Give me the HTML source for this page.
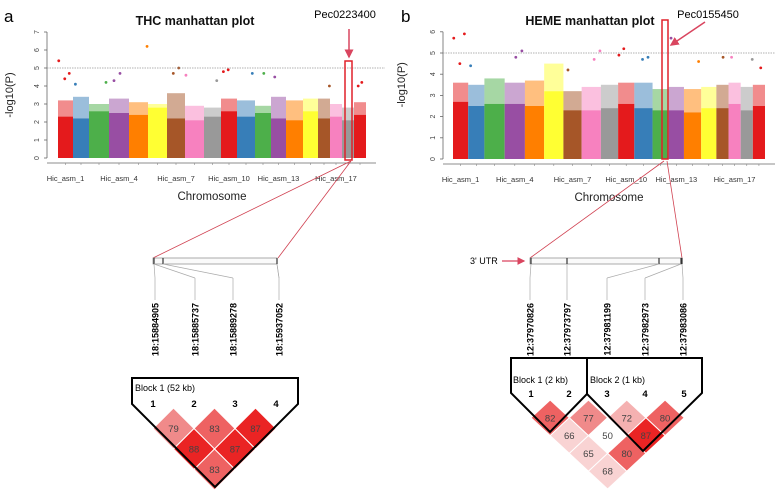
<!DOCTYPE html>
<html><head><meta charset="utf-8"><style>
body{margin:0;background:#fff;width:778px;height:492px;overflow:hidden}
svg{display:block}
text{font-family:"Liberation Sans",sans-serif}
</style></head><body>
<svg id="fig" width="778" height="492" viewBox="0 0 778 492" xmlns="http://www.w3.org/2000/svg">
<g id="pa"></g>
<g id="pb"></g>
</svg>
<script>
const chrColors=["#e41a1c","#377eb8","#4daf4a","#984ea3","#ff7f00","#ffff33","#a65628","#f781bf","#999999","#e41a1c","#377eb8","#4daf4a","#984ea3","#ff7f00","#ffff33","#a65628","#f781bf","#999999","#e41a1c"];
const chrLen=[15,16,20,20,19,19,18,19,17,16,18,16,15,17,15,12,12,12,12];
const xLabels=["Hic_asm_1","Hic_asm_4","Hic_asm_7","Hic_asm_10","Hic_asm_13","Hic_asm_17"];
const xLabelChr=[1,4,7,10,13,17];
const thcCore=[2.3,2.2,2.6,2.5,2.4,2.8,2.2,2.1,2.3,2.6,2.3,2.5,2.2,2.1,2.6,2.2,2.3,2.1,2.4];
const thcUpper=[3.2,3.4,3.0,3.3,3.1,3.0,3.6,2.9,2.8,3.3,3.2,2.9,3.4,3.2,3.3,3.3,3.0,2.8,3.1];
const thcPeakChr=[1,1,1,2,3,4,4,5,7,7,8,9,10,10,11,12,13,16,19,19];
const thcPeakVal=[5.4,4.7,4.4,4.1,4.2,4.7,4.3,6.2,5.0,4.7,4.6,4.3,4.9,4.8,4.7,4.7,4.5,4.0,4.2,4.0];
const hemeCore=[2.7,2.5,2.6,2.6,2.5,3.2,2.3,2.3,2.4,2.6,2.4,2.3,2.3,2.2,2.4,2.4,2.6,2.3,2.5];
const hemeUpper=[3.6,3.5,3.8,3.6,3.7,4.5,3.2,3.4,3.5,3.6,3.6,3.3,3.4,3.3,3.4,3.5,3.6,3.4,3.5];
const hemePeakChr=[1,1,1,2,4,4,7,8,8,10,10,11,11,13,14,16,17,18,19];
const hemePeakVal=[5.7,5.9,4.5,4.4,5.1,4.8,4.2,5.1,4.7,5.2,4.9,4.8,4.7,5.7,4.6,4.8,4.8,4.7,4.3];
const thcTicks=[0,1,2,3,4,5,6,7];
const hemeTicks=[0,1,2,3,4,5,6];
const threshold=5;
const NS="http://www.w3.org/2000/svg";
function el(p,t,a,txt){const e=document.createElementNS(NS,t);for(const k in a)e.setAttribute(k,a[k]);if(txt!==undefined)e.textContent=txt;p.appendChild(e);return e;}

function manhattan(g,cfg){
  const yS=v=>cfg.y0-(v)*cfg.unit;
  const tot=chrLen.reduce((a,b)=>a+b,0);
  const xS=p=>cfg.x0+p/tot*(cfg.x1-cfg.x0);
  const starts=[];let acc=0;chrLen.forEach(l=>{starts.push(acc);acc+=l;});
  let ax=el(g,'line',{x1:cfg.axL,y1:yS(0),x2:cfg.axL,y2:yS(cfg.ticks[cfg.ticks.length-1]),stroke:'#666','stroke-width':0.8});
  
  cfg.ticks.forEach(t=>{
    el(g,'line',{x1:cfg.axL-3,y1:yS(t),x2:cfg.axL,y2:yS(t),stroke:'#666','stroke-width':0.8});
    const tx=el(g,'text',{x:cfg.axL-8,y:yS(t),'font-size':7,fill:'#444','text-anchor':'middle',transform:`rotate(-90 ${cfg.axL-8} ${yS(t)})`},String(t));
    
  });
  let xa=el(g,'line',{x1:cfg.axL,y1:cfg.y0+5,x2:cfg.x1+10,y2:cfg.y0+5,stroke:'#666','stroke-width':0.8});
  
  chrLen.forEach((l,i)=>{
    const xa0=xS(starts[i]),xa1=xS(starts[i]+l);
    el(g,'line',{x1:(xa0+xa1)/2,y1:cfg.y0+5,x2:(xa0+xa1)/2,y2:cfg.y0+7,stroke:'#888','stroke-width':0.6});
    const up=el(g,'rect',{x:xa0,y:yS(cfg.upper[i]),width:xa1-xa0,height:yS(cfg.core[i])-yS(cfg.upper[i]),fill:chrColors[i],opacity:0.5});
    
    const r=el(g,'rect',{x:xa0,y:yS(cfg.core[i]),width:xa1-xa0,height:yS(0)-yS(cfg.core[i]),fill:chrColors[i]});
    
  });
  cfg.peakChr.forEach((c,j)=>{
    const i=c-1;const px=xS(starts[i]+chrLen[i]*((j*37%10)/10+0.05));
    const d=el(g,'circle',{cx:px,cy:yS(cfg.peakVal[j]),r:1.4,fill:chrColors[i]});
    
  });
  let th=el(g,'line',{x1:cfg.axL,y1:yS(threshold),x2:cfg.thEnd,y2:yS(threshold),stroke:'#999','stroke-width':0.7,'stroke-dasharray':'1.5,1'});
  
  xLabels.forEach((lb,k)=>{
    const i=xLabelChr[k]-1;const cx=xS(starts[i]+chrLen[i]/2);
    const t=el(g,'text',{x:cx,y:cfg.y0+23,'font-size':7.5,fill:'#333','text-anchor':'middle'},lb);
    
  });
  let xt=el(g,'text',{x:(cfg.x0+cfg.x1)/2,y:cfg.y0+42,'font-size':11.5,fill:'#222','text-anchor':'middle'},'Chromosome');
  
  let yt=el(g,'text',{x:cfg.yTitleX,y:yS(3.5),'font-size':11,fill:'#222','text-anchor':'middle',transform:`rotate(-90 ${cfg.yTitleX} ${yS(3.5)})`},'-log10(P)');
  
  let tt=el(g,'text',{x:cfg.titleX,y:25,'font-size':12.5,'font-weight':'bold',fill:'#111','text-anchor':'middle'},cfg.title);
  
}
const pa=document.getElementById('pa'),pb=document.getElementById('pb');
manhattan(pa,{x0:58,x1:366,y0:158,unit:18,axL:47,ticks:thcTicks,core:thcCore,upper:thcUpper,peakChr:thcPeakChr,peakVal:thcPeakVal,thEnd:385,yTitleX:13,titleX:195,title:'THC manhattan plot'});
manhattan(pb,{x0:453,x1:765,y0:159,unit:21.2,axL:443,ticks:hemeTicks,core:hemeCore,upper:hemeUpper,peakChr:hemePeakChr,peakVal:hemePeakVal,thEnd:775,yTitleX:405,titleX:590,title:'HEME manhattan plot'});

let l1=el(pa,'text',{x:4,y:22,'font-size':17,'font-family':'Liberation Serif'},'a');
let l2=el(pb,'text',{x:401,y:22,'font-size':17,'font-family':'Liberation Serif'},'b');

const red='#d9455f';
function hl(g,x,y,w,h){const r=el(g,'rect',{x,y,width:w,height:h,fill:'none',stroke:'#e0202a','stroke-width':1.5});}
hl(pa,345,61,7,99);hl(pb,662,20,6,139);
let m=el(document.getElementById('fig'),'defs',{});
let mk=el(m,'marker',{id:'ah',markerWidth:6,markerHeight:6,refX:5,refY:3,orient:'auto'});el(mk,'path',{d:'M0,0 L6,3 L0,6 Z',fill:red});
let a1=el(pa,'line',{x1:349,y1:29,x2:349,y2:57,stroke:red,'stroke-width':1.5,'marker-end':'url(#ah)'});
let a2=el(pb,'line',{x1:705,y1:22,x2:671,y2:45,stroke:red,'stroke-width':1.5,'marker-end':'url(#ah)'});
let s1=el(pa,'text',{x:345,y:18,'font-size':11,'font-family':'Liberation Serif','text-anchor':'middle'},'Pec0223400');
let s2=el(pb,'text',{x:708,y:18,'font-size':11,'font-family':'Liberation Serif','text-anchor':'middle'},'Pec0155450');
[[351,161,153,258],[351,161,278,258]].forEach(c=>el(pa,'line',{x1:c[0],y1:c[1],x2:c[2],y2:c[3],stroke:'#d04050','stroke-width':0.8}));
[[664,161,530,258],[667,161,682,258]].forEach(c=>el(pb,'line',{x1:c[0],y1:c[1],x2:c[2],y2:c[3],stroke:'#d04050','stroke-width':0.8}));

function gene(g,x0,x1,ticks,labX,labels,links){
  const r=el(g,'rect',{x:x0,y:258,width:x1-x0,height:6,fill:'#fafafa',stroke:'#888','stroke-width':0.7});
  
  ticks.forEach(t=>el(g,'line',{x1:t,y1:258,x2:t,y2:264,stroke:'#333','stroke-width':1.2}));
  links.forEach((k,i)=>el(g,'line',{x1:ticks[k],y1:264,x2:labX[i],y2:278,stroke:'#aaa','stroke-width':0.7}));
  labels.forEach((s,i)=>{
    el(g,'line',{x1:labX[i],y1:278,x2:labX[i],y2:300,stroke:'#aaa','stroke-width':0.7});
    const t=el(g,'text',{x:labX[i]+3.5,y:303,'font-size':9,'font-weight':'bold','text-anchor':'end',transform:`rotate(-90 ${labX[i]+3.5} 303)`},s);
    
  });
}
gene(pa,153,277,[154,163,277],[155,195,233,279],["18:15884905","18:15885737","18:15889278","18:15937052"],[0,0,1,2]);
gene(pb,530,682,[531,567,659,681,682],[530,567,607,645,683],["12:37970826","12:37973797","12:37981199","12:37982973","12:37983086"],[0,1,2,3,4]);
el(pa,'line',{x1:277,y1:264,x2:279,y2:278,stroke:'#aaa','stroke-width':0.7});
let u=el(pb,'text',{x:470,y:264,'font-size':9,'font-family':'Liberation Serif'},"3' UTR");
el(pb,'line',{x1:502,y1:261,x2:524,y2:261,stroke:red,'stroke-width':1.3,'marker-end':'url(#ah)'});

function ldColor(v){if(v<60)return '#ffffff';if(v<70)return '#f9d3d3';if(v<75)return '#f5b1b1';if(v<80)return '#f08a8a';if(v<84)return '#ee6262';if(v<86)return '#ec4c4c';return '#ea2424';}
function ld(g,x0,step,yTop,hh,vals){
  vals.forEach((row,i)=>row.forEach((v,j)=>{
    const cy=yTop+hh*(i+1);
    const cxx=x0+step*(j+(i+1)/2);
    const d=el(g,'path',{d:`M${cxx},${cy-hh} L${cxx+step/2},${cy} L${cxx},${cy+hh} L${cxx-step/2},${cy} Z`,fill:ldColor(v),stroke:'#fff','stroke-width':1});
    
    const t=el(g,'text',{x:cxx,y:cy+3.5,'font-size':9.5,fill:'#444','text-anchor':'middle'},String(v));
    
  }));
}
const ldA=[[79,83,87],[88,87],[83]];
ld(pa,153,41,408,20.5,ldA);
const ldB=[[82,77,72,80],[66,50,87],[65,80],[68]];
ld(pb,531,38.3,400,17.8,ldB);
let o1=el(pa,'path',{d:'M132,378 L298,378 L298,404 L215,487 L132,404 Z',fill:'none',stroke:'#000','stroke-width':2});
let o2=el(pb,'path',{d:'M511,358 L587,358 L587,394 L550,432 L511,393 Z',fill:'none',stroke:'#000','stroke-width':2});
let o3=el(pb,'path',{d:'M587,358 L702,358 L702,393 L643,451 L587,394 Z',fill:'none',stroke:'#000','stroke-width':2});
let b1=el(pa,'text',{x:135,y:391,'font-size':9},'Block 1 (52 kb)');
let b2=el(pb,'text',{x:513,y:383,'font-size':9},'Block 1 (2 kb)');
let b3=el(pb,'text',{x:590,y:383,'font-size':9},'Block 2 (1 kb)');
[153,194,235,276].forEach((x,i)=>{const t=el(pa,'text',{x,y:407,'font-size':9.5,'font-weight':'bold','text-anchor':'middle'},String(i+1));});
[531,569,607,645,684].forEach((x,i)=>{const t=el(pb,'text',{x,y:397,'font-size':9.5,'font-weight':'bold','text-anchor':'middle'},String(i+1));});
</script>
</body></html>
